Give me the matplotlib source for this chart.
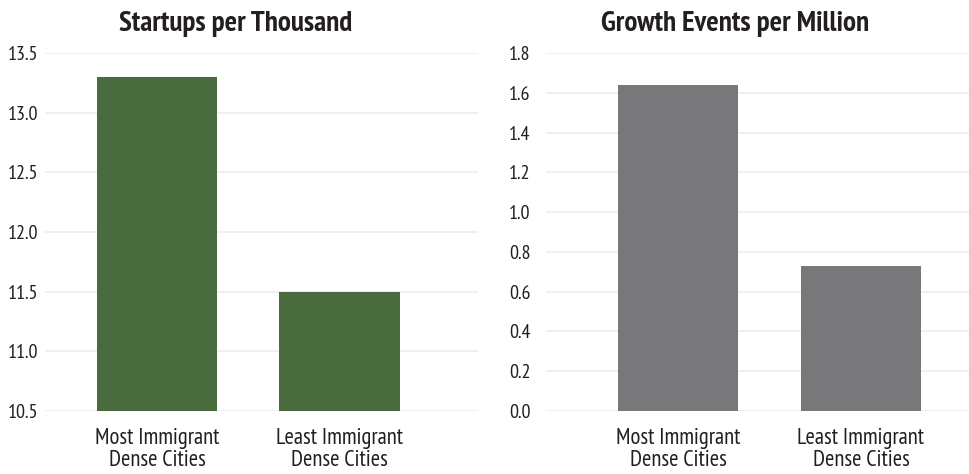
import matplotlib
matplotlib.use("Agg")
import matplotlib.pyplot as plt

# ─────────────────────────────
# DATA
# ─────────────────────────────
categories    = ["Most Immigrant\nDense Cities", "Least Immigrant\nDense Cities"]
startups      = [13.3, 11.5]
growth        = [1.64, 0.73]
startup_ticks = [10.5, 11.0, 11.5, 12.0, 12.5, 13.0, 13.5]
growth_ticks  = [0.0, 0.2, 0.4, 0.6, 0.8, 1.0, 1.2, 1.4, 1.6, 1.8]

GREEN = "#4a6b3d"
GREY  = "#78787a"
TEXT  = "#231f20"

plt.rcParams["font.family"] = ["PT Sans Narrow", "Liberation Sans", "DejaVu Sans"]

W, H = 969, 474
fig = plt.figure(figsize=(W / 100, H / 100), dpi=100)


def px_axes(x0, x1, y_top, y_bot):
    return fig.add_axes([x0 / W, 1 - y_bot / H, (x1 - x0) / W, (y_bot - y_top) / H])


def style(ax, ticks, fmt, ypad):
    ax.set_yticks(ticks)
    ax.set_yticklabels([fmt.format(t) for t in ticks], fontsize=14.5, color=TEXT)
    ax.set_ylim(ticks[0], ticks[-1])
    ax.set_xticks(range(len(categories)))
    ax.set_xticklabels(categories, fontsize=16.3, color=TEXT, linespacing=1.08)
    ax.tick_params(axis="both", length=0)
    ax.tick_params(axis="y", pad=ypad)
    ax.tick_params(axis="x", pad=12)
    for s in ax.spines.values():
        s.set_visible(False)
    ax.grid(axis="y", color="#ebebeb", linewidth=1.1)
    ax.set_axisbelow(True)


# left panel: startups
ax1 = px_axes(45, 478, 53, 411)
ax1.bar(range(len(categories)), startups, width=0.66, color=GREEN)
ax1.set_xlim(-0.614, 1.759)
style(ax1, startup_ticks, "{:.1f}", 5)

# right panel: growth events
ax2 = px_axes(546, 969, 53, 411)
ax2.bar(range(len(categories)), growth, width=0.656, color=GREY)
ax2.set_xlim(-0.721, 1.59)
style(ax2, growth_ticks, "{:.1f}", 11)

fig.text(236 / W, 1 - 31 / H, "Startups per Thousand", ha="center", va="baseline",
         fontsize=21, fontweight="bold", color=TEXT)
fig.text(735 / W, 1 - 31 / H, "Growth Events per Million", ha="center", va="baseline",
         fontsize=21, fontweight="bold", color=TEXT)

fig.savefig("out.png", dpi=100)
